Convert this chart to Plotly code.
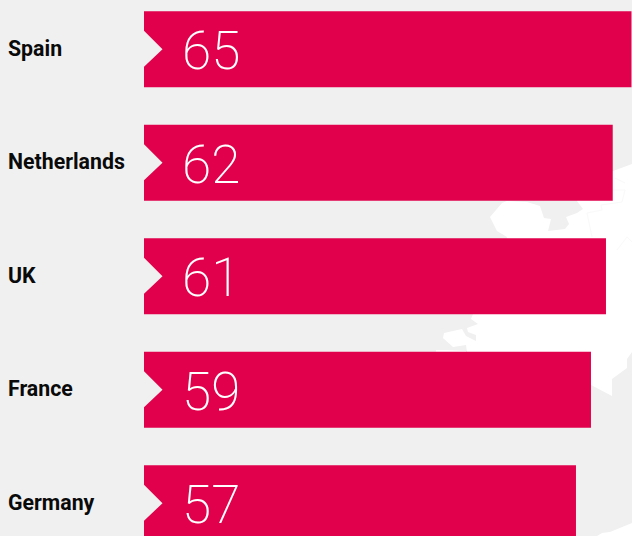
import plotly.graph_objects as go

countries = ["Spain", "Netherlands", "UK", "France", "Germany"]
bar_values = [65.0, 62.5, 61.6, 59.6, 57.6]
value_labels = ["65", "62", "61", "59", "57"]

BG = "#f0f0f0"
BAR = "#e1004b"
W, H = 632, 536
L = 144
PX_PER_VALUE = 7.5
PX_PER_ROW = 113.5

# Decorative map silhouette behind the chart (page pixels)
map_main = [(632,164),(613,171),(580,180),(577,201),(583,209),(577,213),(566,217),(569,224),(565,229),
            (548,231),(551,219),(544,218),(540,206),(527,202),(507,201),(502,203),(490,217),(497,231),
            (507,237),(500,270),(480,300),(473,314),(471,319),(478,324),(467,328),(468,332),(476,335),
            (476,341),(466,336),(462,329),(444,333),(443,338),(453,347),(466,345),(467,352),(500,370),
            (591,385),(612,396),(612,379),(627,368),(627,359),(632,352)]
map_sliver = [(436,353),(436,350),(447,350),(466,351),(466,356),(436,356)]
map_south = [(597,536),(602,533),(610,532),(632,523),(632,536)]
map_borders = [[(587,213),(602,210),(601,205),(622,202),(625,190),(613,190)],
               [(587,213),(592,237)],
               [(617,250),(627,237),(632,242)],
               [(625,183),(615,178)]]


def to_paper(p):
    return (p[0] - L) / (W - L), 1 - p[1] / H


def path(pts, close=True):
    coords = [to_paper(p) for p in pts]
    d = "M" + "L".join(f"{x:.5f},{y:.5f}" for x, y in coords)
    return d + ("Z" if close else "")


shapes = [dict(type="path", path=path(p), xref="paper", yref="paper", layer="below",
               fillcolor="white", line=dict(width=0))
          for p in (map_main, map_sliver, map_south)]
shapes += [dict(type="path", path=path(p, False), xref="paper", yref="paper", layer="below",
                line=dict(color="#f9f9f9", width=1))
           for p in map_borders]

rows = list(range(len(countries)))

fig = go.Figure()
fig.add_bar(y=rows, x=bar_values, orientation="h", width=0.67,
            marker=dict(color=BAR, line=dict(width=0)), hoverinfo="skip")

# Notch cut into each bar's left edge: 18.5px deep and 18.5px either side of the row centre
depth = 18.5 / PX_PER_VALUE
half = 18.5 / PX_PER_ROW
over = 1 / PX_PER_VALUE
notch_x, notch_y = [], []
for r in rows:
    notch_x += [-over, 0, depth, 0, -over, None]
    notch_y += [r - half, r - half, r, r + half, r + half, None]
fig.add_scatter(x=notch_x, y=notch_y, mode="lines", fill="toself", fillcolor=BG,
                line=dict(width=0), cliponaxis=False, hoverinfo="skip")

annotations = []
for r, c, v in zip(rows, countries, value_labels):
    annotations.append(dict(x=-138 / (W - L), xref="paper", y=r, yref="y", text=f"<b>{c}</b>",
                            xanchor="left", yanchor="middle", showarrow=False, yshift=1,
                            font=dict(family="Roboto", size=21.3, color="#0a0a0a")))
    annotations.append(dict(x=36 / (W - L), xref="paper", y=r, yref="y", text=v,
                            xanchor="left", yanchor="middle", showarrow=False, yshift=-2,
                            font=dict(family="Roboto", size=53, color="white", weight=200)))

fig.update_layout(
    width=W, height=H, margin=dict(l=L, r=0, t=0, b=0),
    paper_bgcolor=BG, plot_bgcolor="rgba(0,0,0,0)", showlegend=False,
    shapes=shapes, annotations=annotations,
    xaxis=dict(range=[0, 65.07], visible=False, fixedrange=True),
    yaxis=dict(range=[4.289, -0.4335], visible=False, fixedrange=True),
)
fig.write_html("out.html", config=dict(displayModeBar=False),
               post_script="document.body.style.margin='0';document.body.style.overflow='hidden';document.body.style.background='#f0f0f0';")
